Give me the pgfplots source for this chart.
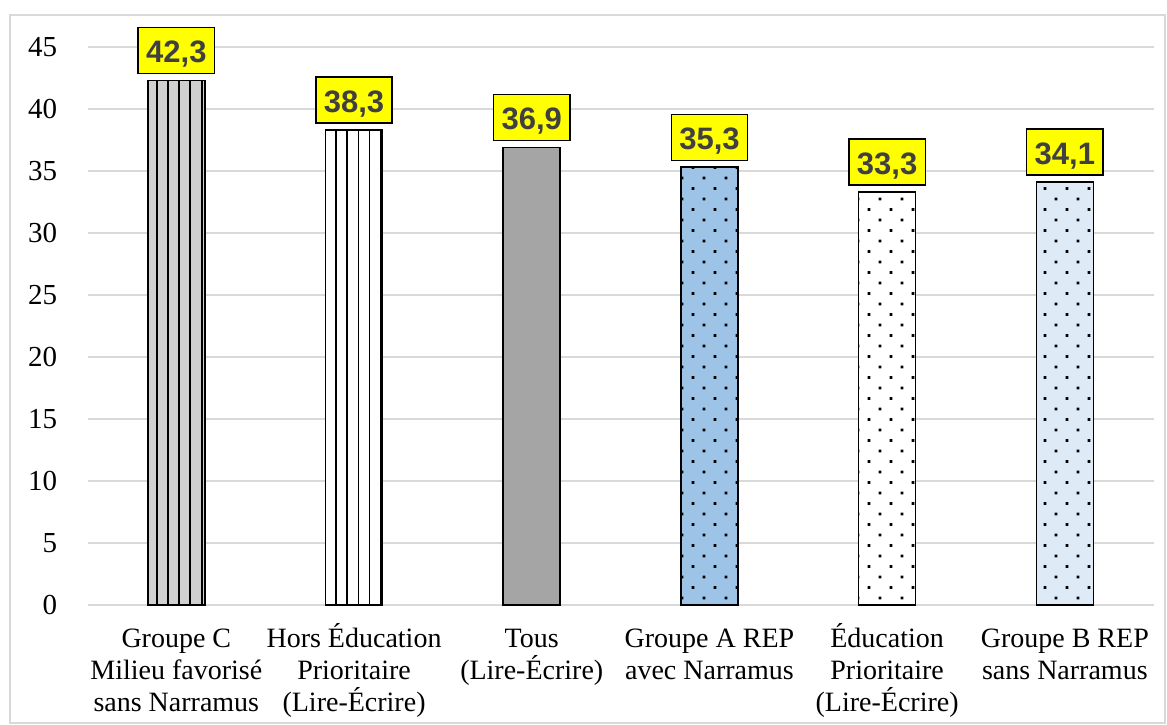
\documentclass[border=0pt]{standalone}
\usepackage{fontspec}
\setmainfont{Liberation Serif}
\newfontfamily\arialfont{Liberation Sans}
\usepackage{pgfplots}
\pgfplotsset{compat=1.18}
\usetikzlibrary{patterns,patterns.meta}
\definecolor{gridc}{HTML}{D9D9D9}
\definecolor{labc}{HTML}{404040}
\definecolor{lgray}{HTML}{D0D0D0}
\definecolor{mgray}{HTML}{A5A5A5}
\definecolor{mblue}{HTML}{9DC3E6}
\definecolor{lblue}{HTML}{DEEBF7}
\definecolor{ylw}{HTML}{FFFF00}
\pgfdeclarepatternformonly{mydots}{\pgfqpoint{-1pt}{-1pt}}{\pgfqpoint{10pt}{9.5pt}}{\pgfqpoint{11pt}{10.5pt}}{%
  \pgfpathrectangle{\pgfqpoint{-0.7pt}{-0.7pt}}{\pgfqpoint{1.4pt}{1.4pt}}%
  \pgfpathrectangle{\pgfqpoint{4.8pt}{4.55pt}}{\pgfqpoint{1.4pt}{1.4pt}}%
  \pgfusepath{fill}}
\newcommand\fl{\rule{0pt}{13pt}}
\begin{document}
\begin{tikzpicture}
\begin{axis}[
  scale only axis, width=533.1pt, height=279pt,
  ybar, bar width=28.5pt, bar shift=0pt,
  xmin=-0.5, xmax=5.5, ymin=0, ymax=45,
  ytick={0,5,...,45}, xtick={0,1,2,3,4,5},
  xticklabels={{\fl Groupe C\\Milieu favorisé\\sans Narramus},
               {\fl Hors Éducation\\Prioritaire\\(Lire-Écrire)},
               {\fl Tous\\(Lire-Écrire)},
               {\fl Groupe A REP\\avec Narramus},
               {\fl Éducation\\Prioritaire\\(Lire-Écrire)},
               {\fl Groupe B REP\\sans Narramus}},
  axis line style={draw=none},
  tick style={draw=none},
  ymajorgrids, grid style={gridc, line width=0.6pt},
  clip=false,
  /pgf/number format/assume math mode=true,
  yticklabel style={font=\fontsize{14.5}{16}\selectfont, inner sep=0pt, xshift=-15pt},
  xticklabel style={font=\fontsize{14}{16}\selectfont, align=center, anchor=north, inner sep=0pt, yshift=-4pt},
  nodes near coords={\pgfmathprintnumber[use comma, fixed, fixed zerofill, precision=1]{\pgfplotspointmeta}},
  every node near coord/.append style={anchor=south, fill=ylw, draw=black, line width=0.75pt,
     text=labc, font=\arialfont\bfseries\fontsize{15.5}{15.5}\selectfont,
     inner xsep=4pt, inner ysep=5.5pt, text height=12pt, text depth=0pt, yshift=3.5pt, outer sep=0pt},
]
\addplot[draw=black, line width=0.8pt, fill=lgray, postaction={pattern={Lines[angle=90, distance=5.6pt, line width=1pt]}}] coordinates {(0,42.3)};
\addplot[draw=black, line width=0.8pt, fill=white, postaction={pattern={Lines[angle=90, distance=5.6pt, line width=0.85pt]}}] coordinates {(1,38.3)};
\addplot[draw=black, line width=0.8pt, fill=mgray] coordinates {(2,36.9)};
\addplot[draw=black, line width=0.8pt, fill=mblue, postaction={pattern=mydots}] coordinates {(3,35.3)};
\addplot[draw=black, line width=0.8pt, fill=white, postaction={pattern=mydots}] coordinates {(4,33.3)};
\addplot[draw=black, line width=0.8pt, fill=lblue, postaction={pattern=mydots}] coordinates {(5,34.1)};
\end{axis}
\draw[gridc, line width=0.6pt] (-38.75pt,-59pt) rectangle (538.75pt,295pt);
\pgfresetboundingbox
\useasboundingbox (-43.75pt,-59.5pt) rectangle (539.75pt,302.5pt);
\end{tikzpicture}
\end{document}
